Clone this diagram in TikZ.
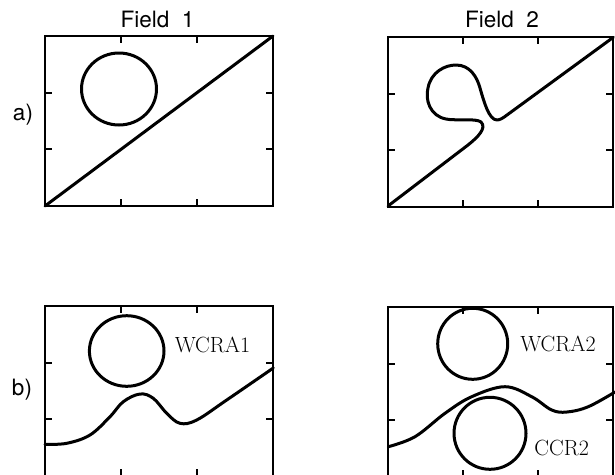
\documentclass[tikz,border=0pt]{standalone}
\usepackage{fontspec}
\newfontfamily\helv{TeX Gyre Heros}
\newcommand\mypanel[4]{%
  \draw[frame] (#1,#2) rectangle (#3,#4);
  \foreach \f in {1,2}{%
    \pgfmathsetmacro\tx{#1+(#3-#1)*\f/3}%
    \pgfmathsetmacro\ty{#2+(#4-#2)*\f/3}%
    \draw[frame] (\tx,#2) -- ++(0,7);
    \draw[frame] (\tx,#4) -- ++(0,-7);
    \draw[frame] (#1,\ty) -- ++(7,0);
    \draw[frame] (#3,\ty) -- ++(-7,0);
  }%
}
\begin{document}
\begin{tikzpicture}[x=1pt,y=-1pt,
  frame/.style={line width=2pt},
  curve/.style={line width=3pt,line join=round,line cap=round},
  lbl/.style={font=\helv\fontsize{22.5}{26}\selectfont,inner sep=0pt},
  tag/.style={font=\fontsize{22}{26}\selectfont,inner sep=0pt}]
\useasboundingbox (0,0) rectangle (615,474);
\clip (0,0) rectangle (615,474);
% labels
\node[lbl] (f1) at (157.5,19) {Field\ \ 1};
\node[lbl] (f2) at (502,19) {Field\ \ 2};
\node[lbl] (la) at (23,115) {a)};
\node[lbl] (lb) at (22,390) {b)};
% panels
\mypanel{45}{36}{273}{206}
\mypanel{388}{37}{613}{207}
\mypanel{45}{306}{273}{476}
\mypanel{388}{307}{613}{477}
% a) field 1
\draw[curve] (119,89) ellipse [x radius=37.5,y radius=36];
\draw[curve] (45,206) -- (273,36);
% a) field 2
\draw[curve] (388,206) -- (468,145)
  .. controls (478,137) and (487,128) .. (481,122)
  .. controls (476,118) and (455,121) .. (446,119)
  .. controls (430,116) and (425,100) .. (428,88)
  .. controls (431,72) and (445,65) .. (456,65)
  .. controls (470,65) and (477,77) .. (480,88)
  .. controls (484,102) and (489,120) .. (497,120)
  .. controls (500,120) and (503,118) .. (507,115)
  -- (613.3,37.3);
% b) field 1
\draw[curve] (126.7,351) ellipse [x radius=37.3,y radius=35.3];
\node[tag] (w1) at (212.5,345) {WCRA1};
\draw[curve] plot[smooth,tension=0.6] coordinates {
 (45,444.3) (66.7,443.3) (90,435) (110,416.7) (123.3,401.7) (140,394)
 (153.3,398.3) (166.7,413.3) (180,423.3) (196.7,420) (226.7,400) (273.3,368)};
% b) field 2
\draw[curve] (472.7,343.8) ellipse [x radius=35,y radius=35.5];
\node[tag] (w2) at (558,344) {WCRA2};
\draw[curve] (490,433.3) ellipse [x radius=36,y radius=36];
\node[tag] (c2) at (561.7,448.3) {CCR2};
\draw[curve] plot[smooth,tension=0.6] coordinates {
 (388.3,446.7) (415,436.7) (445,413.3) (471.7,396.7) (505,386.7) (531.7,396.7)
 (551.7,410) (567,412) (588.3,406.7) (615,392)};
\end{tikzpicture}
\end{document}
